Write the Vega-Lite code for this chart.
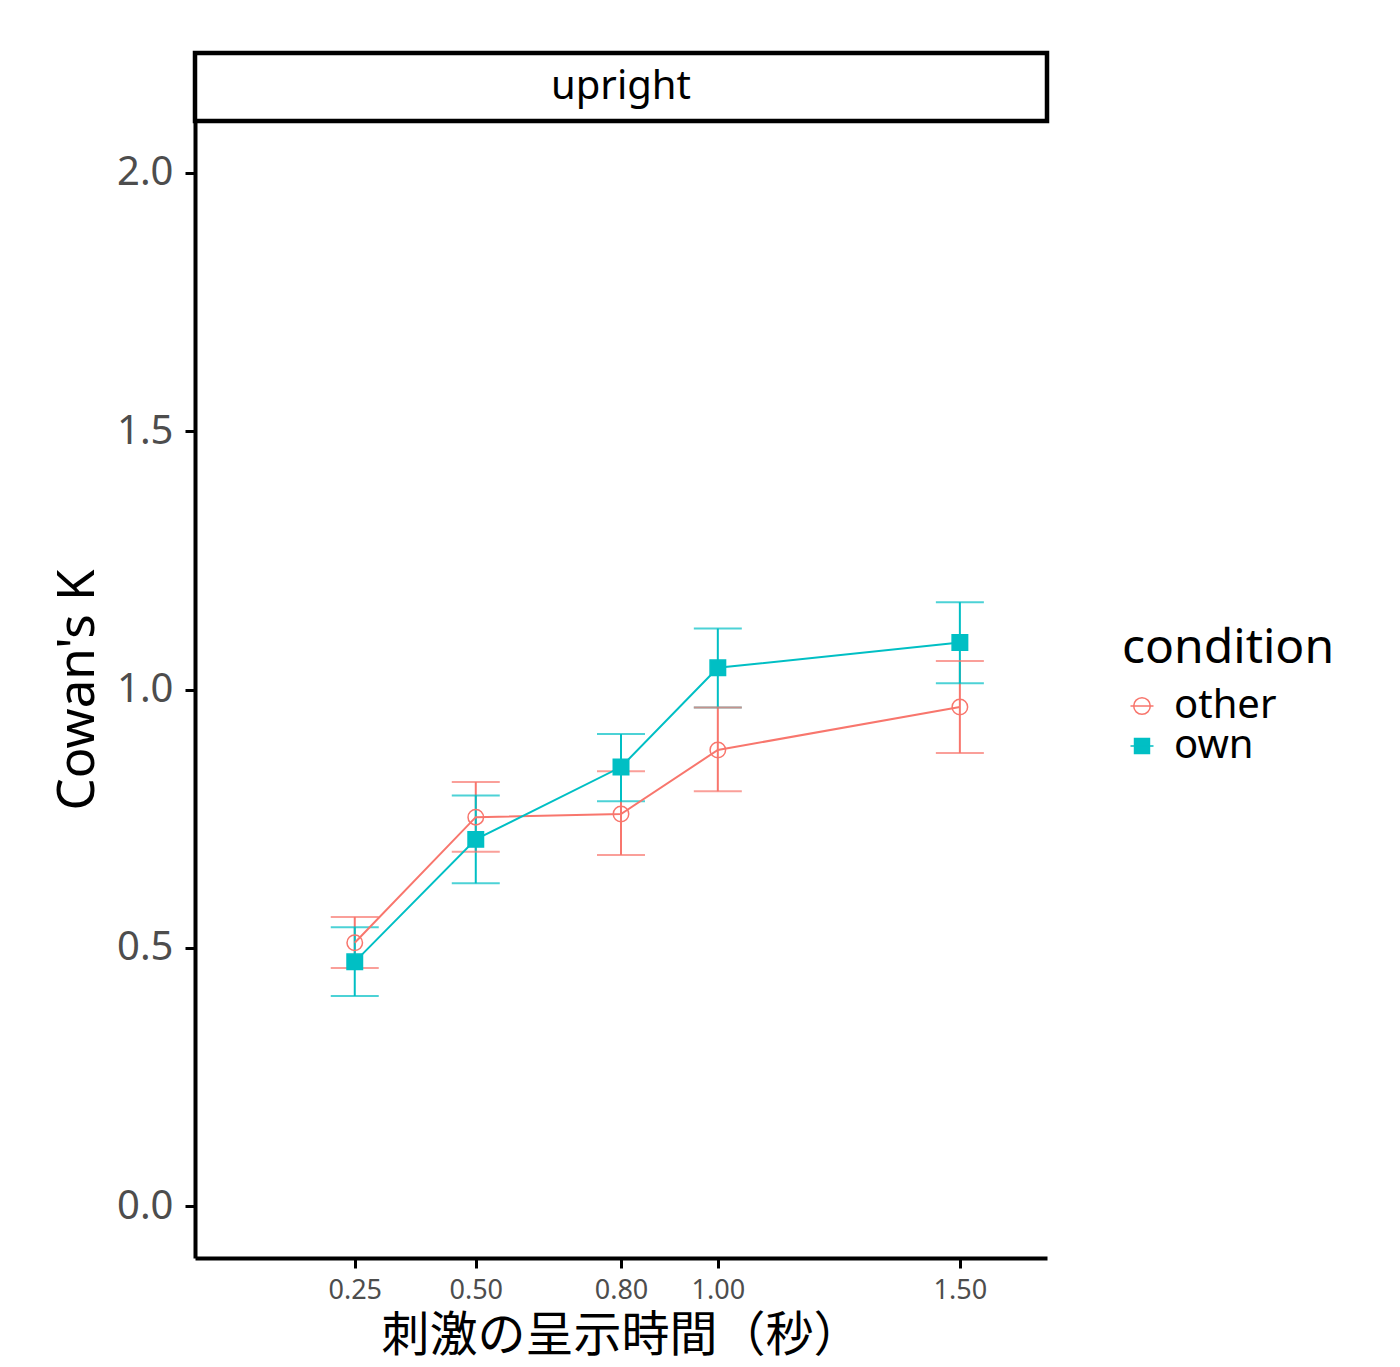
{
  "$schema": "https://vega.github.io/schema/vega-lite/v6.json",
  "background": "white",
  "padding": {"left": 52, "top": 50, "right": 10, "bottom": 5},
  "spacing": 0,
  "bounds": "flush",
  "datasets": {
    "k": [
      {"duration": 0.25, "condition": "other", "K": 0.510, "lo": 0.461, "hi": 0.560},
      {"duration": 0.50, "condition": "other", "K": 0.753, "lo": 0.686, "hi": 0.821},
      {"duration": 0.80, "condition": "other", "K": 0.759, "lo": 0.680, "hi": 0.842},
      {"duration": 1.00, "condition": "other", "K": 0.883, "lo": 0.803, "hi": 0.965},
      {"duration": 1.50, "condition": "other", "K": 0.966, "lo": 0.877, "hi": 1.055},
      {"duration": 0.25, "condition": "own", "K": 0.473, "lo": 0.407, "hi": 0.540},
      {"duration": 0.50, "condition": "own", "K": 0.710, "lo": 0.625, "hi": 0.795},
      {"duration": 0.80, "condition": "own", "K": 0.850, "lo": 0.784, "hi": 0.914},
      {"duration": 1.00, "condition": "own", "K": 1.042, "lo": 0.965, "hi": 1.118},
      {"duration": 1.50, "condition": "own", "K": 1.091, "lo": 1.012, "hi": 1.169}
    ],
    "strip": [{"panel": "upright"}]
  },
  "resolve": {"legend": {"color": "independent"}},
  "config": {
    "font": "Noto Sans",
    "view": {"stroke": null},
    "axis": {
      "grid": false,
      "domainColor": "black",
      "domainWidth": 4,
      "tickColor": "black",
      "tickWidth": 3,
      "tickSize": 10,
      "labelColor": "#4D4D4D",
      "labelFont": "Noto Sans",
      "labelFontWeight": "normal",
      "titleColor": "black",
      "titleFontWeight": "normal",
      "labelFlush": false
    },
    "axisX": {"labelFontSize": 27, "labelPadding": 9, "titleFontSize": 48, "titleFont": "Noto Sans CJK JP", "titlePadding": 9},
    "axisY": {"labelFontSize": 40, "labelPadding": 12, "titleFontSize": 51, "titleFont": "Noto Sans", "titlePadding": 12}
  },
  "vconcat": [
    {
      "width": 852,
      "height": 68,
      "data": {"name": "strip"},
      "view": {"stroke": "black", "strokeWidth": 4.5},
      "mark": {"type": "text", "fontSize": 40, "color": "black", "font": "Noto Sans"},
      "encoding": {"text": {"field": "panel", "type": "nominal"}}
    },
    {
      "width": 852,
      "height": 1137,
      "data": {"name": "k"},
      "encoding": {
        "x": {
          "field": "duration",
          "type": "quantitative",
          "scale": {"domain": [-0.08, 1.68], "nice": false, "zero": false},
          "axis": {"values": [0.25, 0.5, 0.8, 1.0, 1.5], "format": ".2f"},
          "title": "刺激の呈示時間（秒）"
        },
        "color": {
          "field": "condition",
          "type": "nominal",
          "scale": {"domain": ["other", "own"], "range": ["#F8766D", "#00BFC4"]},
          "legend": {
            "orient": "none",
            "legendX": 927,
            "legendY": 504,
            "title": "condition",
            "titleFontSize": 48,
            "titleFontWeight": "normal",
            "titleColor": "black",
            "titleFont": "Noto Sans",
            "titlePadding": 16,
            "titleLimit": 600,
            "labelLimit": 600,
            "labelFontSize": 40,
            "labelColor": "black",
            "labelFont": "Noto Sans",
            "labelOffset": 12,
            "symbolSize": 529,
            "symbolStrokeWidth": 1.5,
            "symbolFillColor": "transparent",
            "clipHeight": 34,
            "rowPadding": 0,
            "padding": 0,
            "encode": {
              "symbols": {
                "update": {
                  "shape": {"signal": "datum.value === 'other' ? 'M-0.72,0A0.72,0.72,0,1,1,0.72,0A0.72,0.72,0,1,1,-0.72,0M-1,0L1,0' : 'M-0.65,-0.65L0.65,-0.65L0.65,0.65L-0.65,0.65ZM-1,0L1,0'"},
                  "fill": {"signal": "datum.value === 'own' ? '#00BFC4' : 'transparent'"},
                  "fillOpacity": {"signal": "datum.value === 'own' ? 1 : 0"},
                  "stroke": {"signal": "datum.value === 'own' ? '#00BFC4' : '#F8766D'"},
                  "strokeWidth": {"value": 1.5},
                  "opacity": {"value": 1}
                }
              }
            }
          }
        }
      },
      "layer": [
        {
          "mark": {"type": "rule", "strokeWidth": 2},
          "encoding": {
            "y": {"field": "lo", "type": "quantitative", "scale": {"domain": [-0.1, 2.1], "nice": false, "zero": false}, "axis": {"values": [0, 0.5, 1, 1.5, 2], "format": ".1f"}, "title": "Cowan's K"},
            "y2": {"field": "hi"}
          }
        },
        {
          "mark": {"type": "tick", "orient": "horizontal", "size": 48, "thickness": 2},
          "encoding": {
            "y": {"field": "lo", "type": "quantitative", "scale": {"domain": [-0.1, 2.1], "nice": false, "zero": false}, "title": "Cowan's K"}
          }
        },
        {
          "mark": {"type": "tick", "orient": "horizontal", "size": 48, "thickness": 2},
          "encoding": {
            "y": {"field": "hi", "type": "quantitative", "scale": {"domain": [-0.1, 2.1], "nice": false, "zero": false}, "title": "Cowan's K"}
          }
        },
        {
          "mark": {"type": "line", "strokeWidth": 2},
          "encoding": {
            "y": {"field": "K", "type": "quantitative", "scale": {"domain": [-0.1, 2.1], "nice": false, "zero": false}, "title": "Cowan's K"}
          }
        },
        {
          "mark": {"type": "point", "filled": false, "strokeWidth": 1.5, "opacity": 1},
          "encoding": {
            "y": {"field": "K", "type": "quantitative", "scale": {"domain": [-0.1, 2.1], "nice": false, "zero": false}, "title": "Cowan's K"},
            "shape": {"field": "condition", "type": "nominal", "scale": {"domain": ["other", "own"], "range": ["circle", "square"]}, "legend": null},
            "size": {"value": 240},
            "fill": {"condition": {"test": "datum.condition === 'own'", "value": "#00BFC4"}, "value": "transparent"}
          }
        }
      ]
    }
  ]
}
